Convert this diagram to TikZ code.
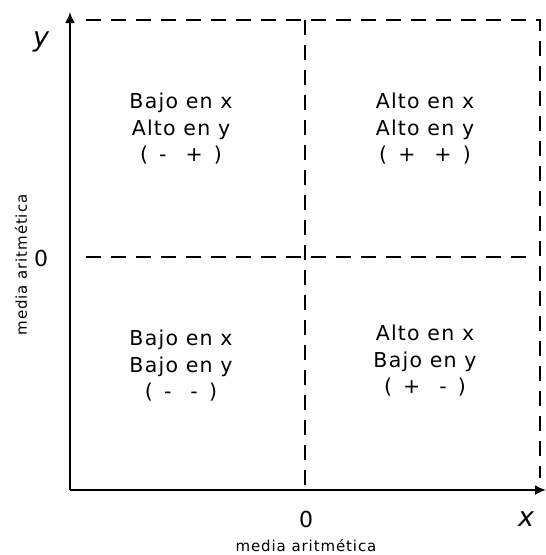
\documentclass[tikz,border=0pt]{standalone}
\usepackage{fontspec}
\setmainfont{DejaVu Sans}[LetterSpace=6]
\usetikzlibrary{arrows.meta}
\tikzset{
  axisline/.style={line width=2pt,-{Latex[length=11pt,width=10pt]}},
  dashline/.style={line width=1.5pt,dash pattern=on 15pt off 10pt},
  quad/.style={align=center,font=\fontsize{20.5}{26.5}\selectfont,inner sep=0pt},
  axlab/.style={font=\fontsize{27}{28}\selectfont\itshape,inner sep=0pt},
  zerolab/.style={font=\fontsize{22}{24}\selectfont,inner sep=0pt},
  medlab/.style={font=\fontsize{15}{17}\selectfont,inner sep=0pt}
}
\begin{document}
\begin{tikzpicture}[x=1pt,y=-1pt]
\useasboundingbox (0,0) rectangle (546,555);
\coordinate (O) at (70,490);
\coordinate (ytip) at (70,12);
\coordinate (xtip) at (546,490);
% dashed frame and midlines
\coordinate (tl) at (86,20);
\coordinate (tr) at (540,20);
\coordinate (br) at (540,478);
\coordinate (mt) at (305,20);
\coordinate (mb) at (305,490);
\coordinate (ml) at (86,257);
\coordinate (mr) at (535,257);
\draw[dashline] (tl) -- (tr) -- (br);
\draw[dashline] (mt) -- (mb);
\draw[dashline] (ml) -- (mr);
\draw[axisline] (O) -- (ytip);
\draw[axisline] (O) -- (xtip);
% labels
\node[axlab] (ylab) at (41,42) {y};
\node[axlab] (xlab) at (526,519) {x};
\node[zerolab] (zy) at (41,258) {0};
\node[zerolab] (zx) at (306,519) {0};
\node[medlab] (mx) at (306,546) {media aritmética};
\node[medlab,rotate=90] (my) at (21,265) {media aritmética};
% quadrants
\node[quad] (q1) at (181,129) {Bajo en x\\Alto en y\\(\, - \, + \,)};
\node[quad] (q2) at (425,129) {Alto en x\\Alto en y\\(\, + \, + \,)};
\node[quad] (q3) at (181,366) {Bajo en x\\Bajo en y\\(\, - \, - \,)};
\node[quad] (q4) at (425,361) {Alto en x\\Bajo en y\\(\, + \, - \,)};
\end{tikzpicture}
\end{document}
